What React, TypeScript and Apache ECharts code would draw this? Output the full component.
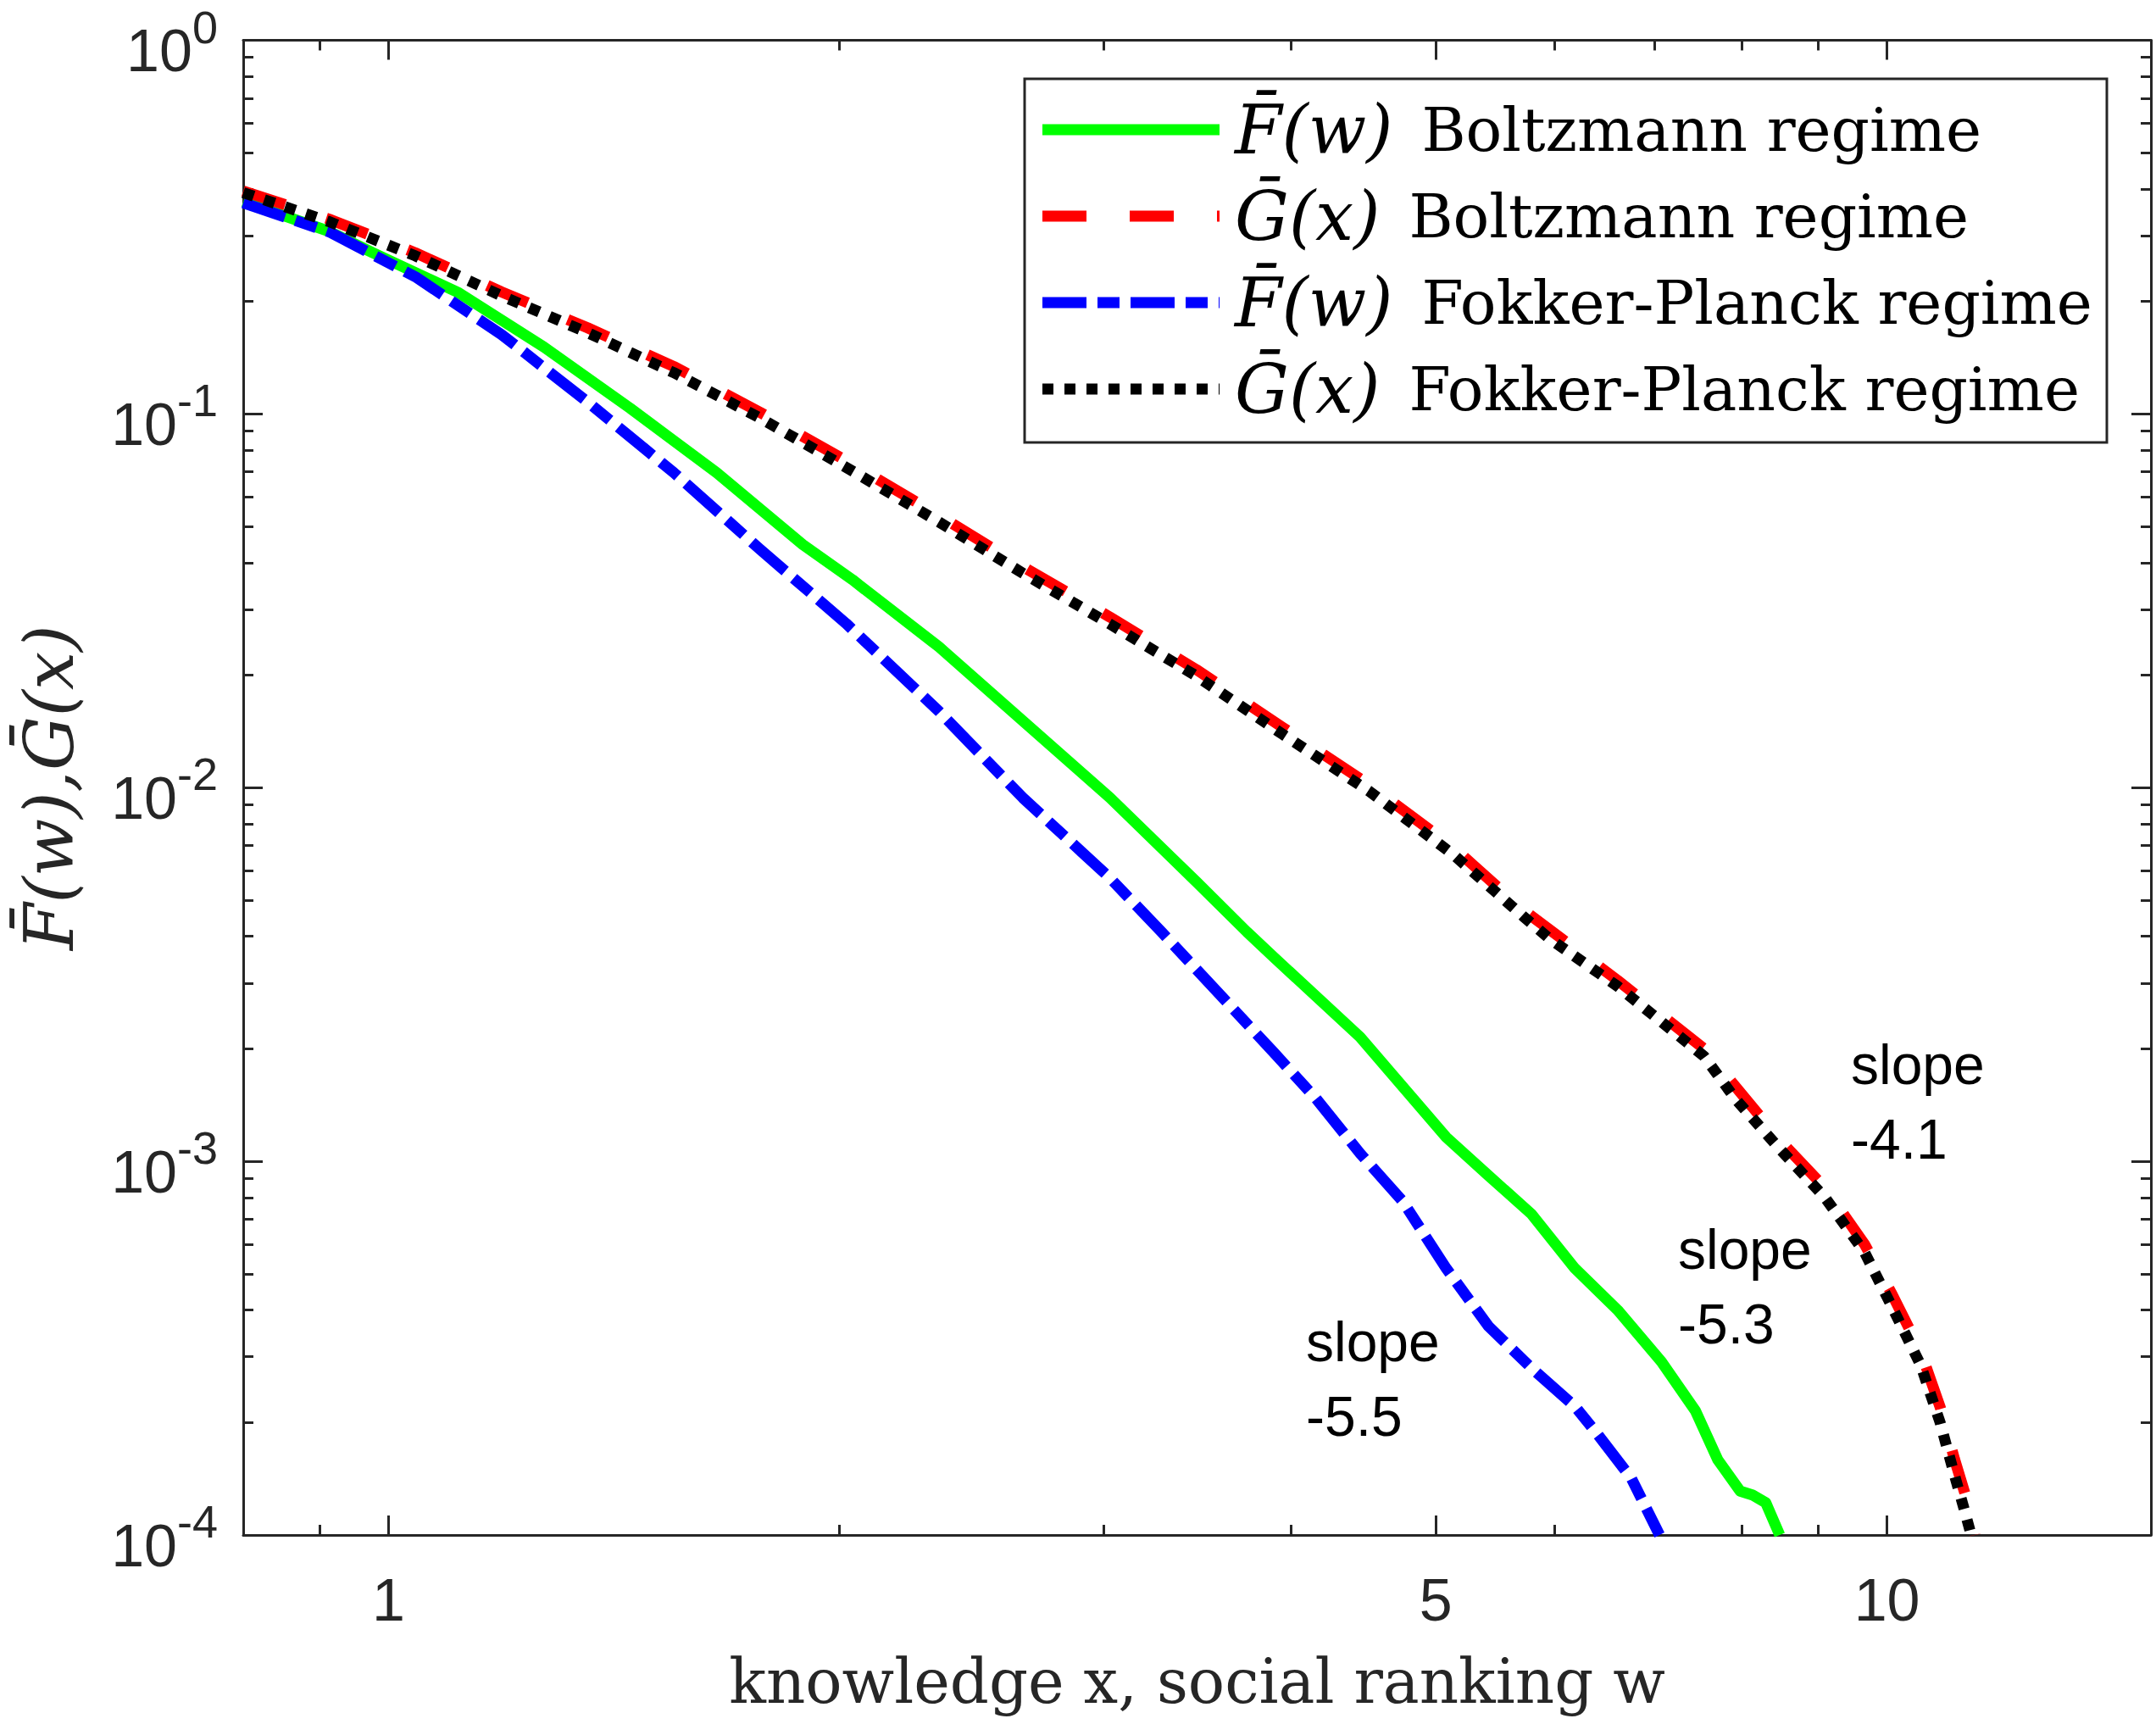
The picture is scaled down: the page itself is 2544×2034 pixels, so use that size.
import React, { useEffect, useRef } from 'react';
import * as echarts from 'echarts';

// ---------- data ----------
const seriesNames = [
  'F\u0304(w) Boltzmann regime',
  'G\u0304(x) Boltzmann regime',
  'F\u0304(w) Fokker-Planck regime',
  'G\u0304(x) Fokker-Planck regime',
];

// F(w) Boltzmann regime (green)
const xFB = [0.8, 0.913, 0.976, 1.114, 1.27, 1.45, 1.656, 1.89, 2.04, 2.33, 2.65, 3.03, 3.46, 3.74, 3.9, 4.45, 5.08, 5.42, 5.79, 6.19, 6.61, 7.07, 7.45, 7.71, 7.98, 8.13, 8.3, 8.48];
const yFB = [0.37, 0.308, 0.27, 0.211, 0.151, 0.1035, 0.0696, 0.0447, 0.036, 0.0238, 0.0151, 0.0094, 0.0056, 0.00411, 0.00351, 0.00215, 0.00116, 0.000916, 0.000723, 0.000517, 0.0004, 0.000291, 0.000215, 0.000159, 0.000131, 0.000128, 0.000122, 0.0001];

// G(x) Boltzmann regime (red)
const xGB = [0.8, 0.913, 1.042, 1.19, 1.358, 1.55, 1.77, 2.02, 2.33, 2.65, 3.03, 3.46, 3.95, 4.51, 5.14, 5.72, 6.61, 7.55, 8.48, 9.09, 9.66, 10.08, 10.53, 10.85, 11.09, 11.3, 11.45];
const yGB = [0.395, 0.332, 0.27, 0.212, 0.17, 0.134, 0.101, 0.075, 0.0535, 0.039, 0.0286, 0.0207, 0.0145, 0.0102, 0.0069, 0.0047, 0.00305, 0.002, 0.00114, 0.00085, 0.0006, 0.00044, 0.00031, 0.00022, 0.00016, 0.000125, 0.0001];

// F(w) Fokker-Planck regime (blue)
const xFFP = [0.8, 0.913, 1.042, 1.19, 1.358, 1.55, 1.77, 2.02, 2.33, 2.65, 3.03, 3.28, 3.9, 4.16, 4.45, 4.75, 5.08, 5.42, 5.79, 6.19, 6.41, 6.75, 7.05];
const yFFP = [0.367, 0.307, 0.233, 0.163, 0.1077, 0.0697, 0.0434, 0.0275, 0.016, 0.0094, 0.00573, 0.00411, 0.00195, 0.00147, 0.00105, 0.000783, 0.000517, 0.000362, 0.00028, 0.000221, 0.000186, 0.000142, 0.0001];

// G(x) Fokker-Planck regime (black)
const xGFP = [0.8, 0.913, 1.042, 1.19, 1.358, 1.55, 1.77, 2.02, 2.33, 2.65, 3.03, 3.46, 3.95, 4.51, 5.14, 5.72, 5.95, 6.61, 7.55, 7.92, 8.48, 9.09, 9.66, 10.08, 10.53, 10.85, 11.09, 11.26, 11.38];
const yGFP = [0.391, 0.327, 0.265, 0.207, 0.165, 0.129, 0.0975, 0.072, 0.0514, 0.0375, 0.0274, 0.0199, 0.0139, 0.0098, 0.0066, 0.00452, 0.00395, 0.00294, 0.00191, 0.00147, 0.00108, 0.0008, 0.000571, 0.000407, 0.000285, 0.0002, 0.000145, 0.000117, 0.0001];

const xTickMajor = [1, 5, 10];
const xTickMinor = [0.9, 2, 3, 4, 6, 7, 8, 9];
const yTickMajor = [0.0001, 0.001, 0.01, 0.1, 1];
const yTickMinor = [
  0.0002, 0.0003, 0.0004, 0.0005, 0.0006, 0.0007, 0.0008, 0.0009,
  0.002, 0.003, 0.004, 0.005, 0.006, 0.007, 0.008, 0.009,
  0.02, 0.03, 0.04, 0.05, 0.06, 0.07, 0.08, 0.09,
  0.2, 0.3, 0.4, 0.5, 0.6, 0.7, 0.8, 0.9,
];

const slopeLabels = ['slope\n-4.1', 'slope\n-5.3', 'slope\n-5.5'];

// ---------- styles ----------
const colors = ['#00ff00', '#ff0000', '#0000ff', '#000000'];
const dashes: (number[] | null)[] = [null, [52, 51], [52, 13, 26, 13], [13, 13]];
const LW = 13;
const AX = '#262626';
const SANS = '"Liberation Sans", Arial, Helvetica, sans-serif';
const SERIF = '"DejaVu Serif", serif';

const slopePos = [
  [2184, 1212],
  [1980, 1430],
  [1541, 1539],
];

function pairs(xs: number[], ys: number[]) {
  return xs.map((x, i) => [x, ys[i]]);
}

function xAx(position: string, ticks: number[], len: number, line: boolean) {
  return {
    type: 'log', logBase: 10, min: 0.8, max: 15, position, gridIndex: 0,
    axisLine: { show: line, onZero: false, lineStyle: { color: AX, width: 3 } },
    axisTick: { show: true, inside: true, length: len, customValues: ticks, lineStyle: { color: AX, width: 3 } },
    axisLabel: { show: false },
    splitLine: { show: false }, minorTick: { show: false }, minorSplitLine: { show: false },
  } as any;
}
function yAx(position: string, ticks: number[], len: number, line: boolean) {
  return {
    type: 'log', logBase: 10, min: 0.0001, max: 1, position, gridIndex: 0,
    axisLine: { show: line, onZero: false, lineStyle: { color: AX, width: 3 } },
    axisTick: { show: true, inside: true, length: len, customValues: ticks, lineStyle: { color: AX, width: 3 } },
    axisLabel: { show: false },
    splitLine: { show: false }, minorTick: { show: false }, minorSplitLine: { show: false },
  } as any;
}

export default function App() {
  const ref = useRef<HTMLDivElement>(null);
  useEffect(() => {
    const chart = echarts.init(ref.current!, null, { renderer: 'svg' });

    const x0 = xAx('bottom', xTickMajor, 23, true);
    x0.axisLabel = {
      show: true, customValues: xTickMajor, inside: false, margin: 42,
      fontSize: 70, lineHeight: 70, fontFamily: SANS, color: AX,
      formatter: (v: number) => String(v),
    };
    x0.name = 'knowledge x, social ranking w';
    x0.nameLocation = 'middle';
    x0.nameGap = 128;
    x0.nameTextStyle = { fontFamily: SERIF, fontSize: 72, lineHeight: 90, color: AX };

    const y0 = yAx('left', yTickMajor, 23, true);
    y0.axisLabel = {
      show: true, customValues: yTickMajor, inside: false, margin: 30,
      formatter: (v: number) => `{b|10}{s|${Math.round(Math.log10(v))}}`,
      rich: {
        b: { fontSize: 70, lineHeight: 70, fontFamily: SANS, color: AX, padding: [25, 0, 0, 0] },
        s: { fontSize: 54, lineHeight: 54, fontFamily: SANS, color: AX, padding: [0, 0, 32, 0] },
      },
    };
    y0.name = 'F\u0304(w),G\u0304(x)';
    y0.nameLocation = 'middle';
    y0.nameRotate = 90;
    y0.nameGap = 179;
    y0.nameTextStyle = { fontFamily: SERIF, fontStyle: 'italic', fontSize: 80, lineHeight: 100, color: AX };

    const data = [pairs(xFB, yFB), pairs(xGB, yGB), pairs(xFFP, yFFP), pairs(xGFP, yGFP)];

    const graphics: any[] = [];
    // legend box
    const LX = 1209, LY = 93, LWID = 1277, LH = 429;
    graphics.push({
      type: 'rect', z: 100,
      shape: { x: LX, y: LY, width: LWID, height: LH },
      style: { fill: '#fff', stroke: AX, lineWidth: 3 },
    });
    seriesNames.forEach((name, i) => {
      const cy = 153 + 102 * i;
      graphics.push({
        type: 'line', z: 101,
        shape: { x1: 1230, y1: cy, x2: 1439, y2: cy },
        style: { stroke: colors[i], lineWidth: LW, lineDash: dashes[i] || undefined },
      });
      const sp = name.indexOf(' ');
      graphics.push({
        type: 'text', z: 101, x: 1457, y: cy,
        style: {
          text: `{m|${name.slice(0, sp)}}{t|${name.slice(sp + 1)}}`,
          verticalAlign: 'middle', align: 'left',
          rich: {
            m: { fontFamily: SERIF, fontStyle: 'italic', fontSize: 80, lineHeight: 90, fill: '#000' },
            t: { fontFamily: SERIF, fontSize: 71, lineHeight: 90, fill: '#000', padding: [0, 0, 0, 34] },
          },
        },
      });
    });
    slopeLabels.forEach((t, i) => {
      graphics.push({
        type: 'text', z: 50, left: slopePos[i][0], top: slopePos[i][1],
        style: { text: t, fontFamily: SANS, fontSize: 66, lineHeight: 88, fill: '#000' },
      });
    });

    chart.setOption({
      animation: false,
      backgroundColor: '#ffffff',
      grid: { left: 278, right: 6, top: 38, bottom: 214, containLabel: false },
      xAxis: [x0, xAx('bottom', xTickMinor, 12, false), xAx('top', xTickMajor, 23, true), xAx('top', xTickMinor, 12, false)],
      yAxis: [y0, yAx('left', yTickMinor, 12, false), yAx('right', yTickMajor, 23, true), yAx('right', yTickMinor, 12, false)],
      series: seriesNames.map((name, i) => ({
        name, type: 'line', xAxisIndex: 0, yAxisIndex: 0,
        data: data[i], showSymbol: false, symbol: 'none', smooth: false,
        lineStyle: { color: colors[i], width: LW, type: dashes[i] || 'solid', cap: 'butt', join: 'round' },
        z: 2 + i,
      })),
      graphic: graphics,
    });
    return () => chart.dispose();
  }, []);
  return (
    <div
      ref={ref}
      style={{ position: 'fixed', left: 0, top: 0, width: 2544, height: 2034, background: '#fff' }}
    />
  );
}
